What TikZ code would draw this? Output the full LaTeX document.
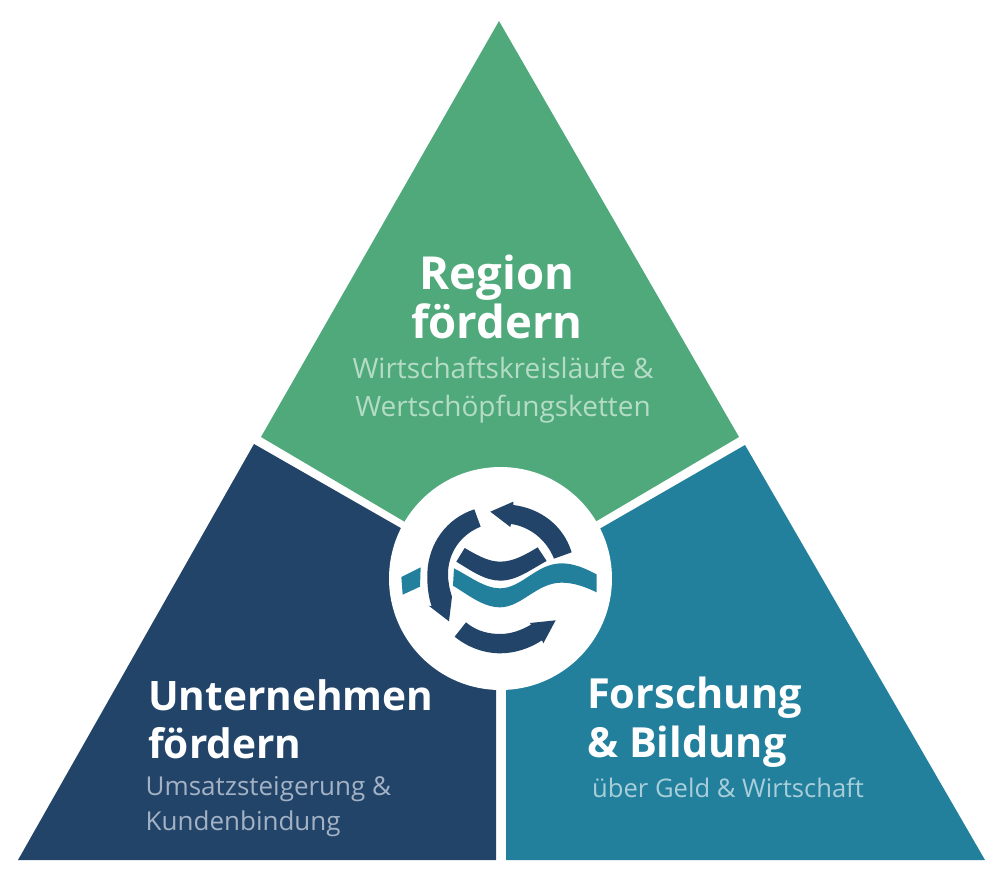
\documentclass[tikz,border=0pt]{standalone}
\usepackage{fontspec}
\setmainfont{Open Sans}
\definecolor{regiongreen}{HTML}{4FA97A}
\definecolor{firmnavy}{HTML}{234469}
\definecolor{schoolteal}{HTML}{22809D}
\definecolor{regionsub}{HTML}{B5DCC6}
\definecolor{firmsub}{HTML}{A3B2C4}
\definecolor{schoolsub}{HTML}{A8CEDA}
\begin{document}
\begin{tikzpicture}[x=1pt,y=-1pt]
	\tikzset{headline/.style={text=white,font=\bfseries\fontsize{#1}{48.5}\selectfont,inner sep=0pt}}
	\tikzset{subline/.style={font=\fontsize{#1}{\ifdim #1pt>27pt 38\else 35\fi}\selectfont,inner sep=0pt}}
	\useasboundingbox (0,0) rectangle (1002,871);
	\fill[regiongreen] (499,21) -- (739,437) -- (500,578) -- (261,437) -- cycle;
	\fill[firmnavy] (254,444) -- (400.7,528) -- (496,578) -- (496,860) -- (18,860) -- cycle;
	\fill[schoolteal] (745,445) -- (985,860) -- (506,860) -- (506,578) -- (601,528) -- cycle;
	\fill[white] (500.5,578.5) circle (111.5);
	% emblem, in units of a third of a pixel
	\begin{scope}[shift={(380,460)},x=0.3333pt,y=-0.3333pt]
		\fill[firmnavy] (331,155) -- (400,125) -- (400,135) .. controls (480,145) and (550,195) .. (575,277) -- (522,296) .. controls (500,240) and (450,200) .. (393,192) -- (391,201) -- cycle;
		\fill[firmnavy] (283,148) -- (302,200) .. controls (240,225) and (205,280) .. (204,340) .. controls (204,365) and (208,385) .. (216,410) -- (207,484) -- (146,437) -- (155,439) .. controls (145,410) and (141,375) .. (142,340) .. controls (145,250) and (200,175) .. (283,148) -- cycle;
		\fill[firmnavy] (258,487) .. controls (290,515) and (330,522) .. (360,522) .. controls (395,522) and (425,510) .. (453,494) -- (450,489) -- (527,481) -- (490,550) -- (486,541) .. controls (450,565) and (405,580) .. (360,580) .. controls (310,580) and (260,560) .. (224,530) -- cycle;
		\fill[firmnavy] (254,264) .. controls (290,285) and (325,305) .. (360,305) .. controls (400,305) and (435,285) .. (473,262) -- (500,303) .. controls (450,330) and (410,362) .. (360,362) .. controls (315,362) and (270,330) .. (229,305) -- cycle;
		\fill[schoolteal] (222,325) .. controls (270,350) and (315,385) .. (360,385) .. controls (425,385) and (470,310) .. (545,310) .. controls (585,310) and (620,328) .. (650,343) -- (650,397) .. controls (615,380) and (580,368) .. (545,368) .. controls (470,368) and (425,442) .. (360,442) .. controls (310,442) and (265,405) .. (219,377) -- cycle;
		\fill[schoolteal] (122,322) -- (120,380) -- (68,404) -- (64,351) -- cycle;
	\end{scope}
	\node[headline=45.5,align=center] (regionhead) at (497,297) {Region\\fördern};
	\node[subline=28,align=center,text=regionsub] (regionsub) at (503,390.5) {Wirtschaftskreisläufe \&\\Wertschöpfungsketten};
	\node[headline=40.6,align=left,anchor=west] (firmhead) at (148,719.5) {Unternehmen\\fördern};
	\node[subline=26,align=left,anchor=west,text=firmsub] (firmsub) at (145.5,806.5) {Umsatzsteigerung \&\\Kundenbindung};
	\node[headline=41.5,align=left,anchor=west] (schoolhead) at (587,722) {Forschung\\\& Bildung};
	\node[subline=25.6,anchor=west,text=schoolsub] (schoolsub) at (592,788) {über Geld \& Wirtschaft};
\end{tikzpicture}
\end{document}
